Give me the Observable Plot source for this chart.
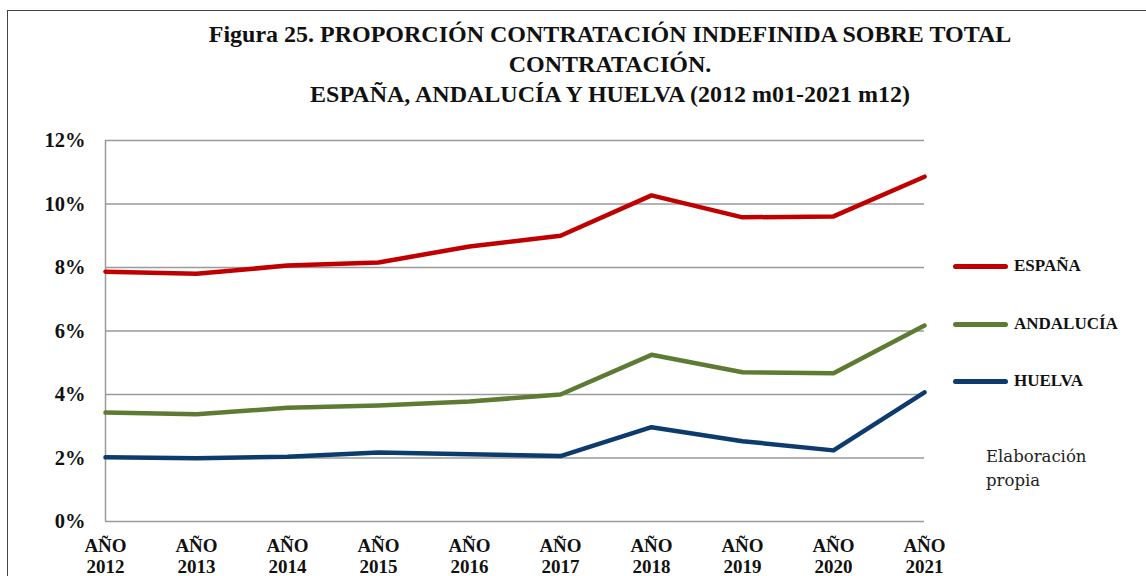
<!DOCTYPE html>
<html>
<head>
<meta charset="utf-8">
<script src="https://cdn.jsdelivr.net/npm/d3@7"></script>
<script src="https://cdn.jsdelivr.net/npm/@observablehq/plot@0.6"></script>
<style>
  html, body { margin: 0; padding: 0; background: #fff; }
  body { width: 1146px; height: 576px; overflow: hidden; position: relative; font-family: "Liberation Serif", serif; }
  #frame { position: absolute; left: 7px; top: 10px; width: 1300px; height: 800px; border: 1.5px solid #444; box-sizing: border-box; }
  #title { position: absolute; left: 0; top: 19px; width: 1220px; text-align: center; font-weight: bold; font-size: 24px; line-height: 30px; color: #111; }
  #chart { position: absolute; left: 0; top: 118px; }
  #legend { position: absolute; left: 953px; top: 0; }
  .li { position: absolute; left: 0; width: 160px; height: 20px; }
  .li .sw { position: absolute; left: 0; top: 8px; width: 55px; height: 4.5px; border-radius: 3px; }
  .li .lb { position: absolute; left: 61px; top: 0; font-weight: bold; font-size: 17px; line-height: 20px; color: #111; white-space: nowrap; }
  #note { position: absolute; left: 986px; top: 445px; font-family: "DejaVu Serif", serif; font-size: 16.5px; line-height: 24px; color: #222; }
</style>
</head>
<body>
<div id="frame"></div>
<div id="title"></div>
<div id="chart"></div>
<div id="legend"></div>
<div id="note"></div>
<script>
const titleLines = [
  "Figura 25. PROPORCIÓN CONTRATACIÓN INDEFINIDA SOBRE TOTAL",
  "CONTRATACIÓN.",
  "ESPAÑA, ANDALUCÍA Y HUELVA (2012 m01-2021 m12)"
];
const noteLines = ["Elaboración", "propia"];
const years = [2012, 2013, 2014, 2015, 2016, 2017, 2018, 2019, 2020, 2021];
const seriesNames = ["ESPAÑA", "ANDALUCÍA", "HUELVA"];
const seriesColors = ["#C00000", "#5E7B33", "#0E3B6E"];
const espana    = [0.0787, 0.0780, 0.0806, 0.0816, 0.0866, 0.0900, 0.1027, 0.0958, 0.0961, 0.1086];
const andalucia = [0.0343, 0.0338, 0.0358, 0.0365, 0.0378, 0.0400, 0.0525, 0.0470, 0.0467, 0.0617];
const huelva    = [0.0202, 0.0199, 0.0204, 0.0217, 0.0212, 0.0206, 0.0297, 0.0253, 0.0224, 0.0407];
const yTicks = [0, 0.02, 0.04, 0.06, 0.08, 0.10, 0.12];
const legendTops = [256, 314, 371];

const seriesValues = [espana, andalucia, huelva];
const data = seriesNames.flatMap((name, i) =>
  years.map((yr, j) => ({ series: name, year: yr, value: seriesValues[i][j] })));

document.getElementById("title").innerHTML = titleLines.map(t => `<div>${t}</div>`).join("");
document.getElementById("note").innerHTML = noteLines.map(t => `<div>${t}</div>`).join("");
document.getElementById("legend").innerHTML = seriesNames.map((n, i) =>
  `<div class="li" style="top:${legendTops[i]}px"><div class="sw" style="background:${seriesColors[i]}"></div><div class="lb">${n}</div></div>`).join("");

const chart = Plot.plot({
  width: 1146,
  height: 458,
  marginTop: 22,
  marginBottom: 55,
  marginLeft: 105,
  marginRight: 222,
  style: { fontFamily: "Liberation Serif, serif", background: "transparent", overflow: "visible" },
  x: { type: "linear", domain: [years[0], years[years.length - 1]], label: null },
  y: { domain: [0, 0.12], label: null },
  color: { domain: seriesNames, range: seriesColors },
  marks: [
    Plot.ruleY(yTicks, { stroke: "#9a9a9a", strokeWidth: 1.5 }),
    Plot.ruleX([years[0]], { stroke: "#9a9a9a", strokeWidth: 1.5 }),
    Plot.axisY({ ticks: yTicks, tickSize: 0, tickPadding: 20, tickFormat: d => Math.round(d * 100) + "%", fontSize: 20.5, fontWeight: "bold", fill: "#111", label: null }),
    Plot.axisX({ ticks: years, tickSize: 0, tickPadding: 16, tickFormat: d => "AÑO\n" + d, fontSize: 19, fontWeight: "bold", fill: "#111", lineHeight: 1.1, label: null }),
    Plot.line(data, { x: "year", y: "value", z: "series", stroke: "series", strokeWidth: 4.5, strokeLinecap: "round", strokeLinejoin: "round" })
  ]
});
document.getElementById("chart").appendChild(chart);
</script>
</body>
</html>
